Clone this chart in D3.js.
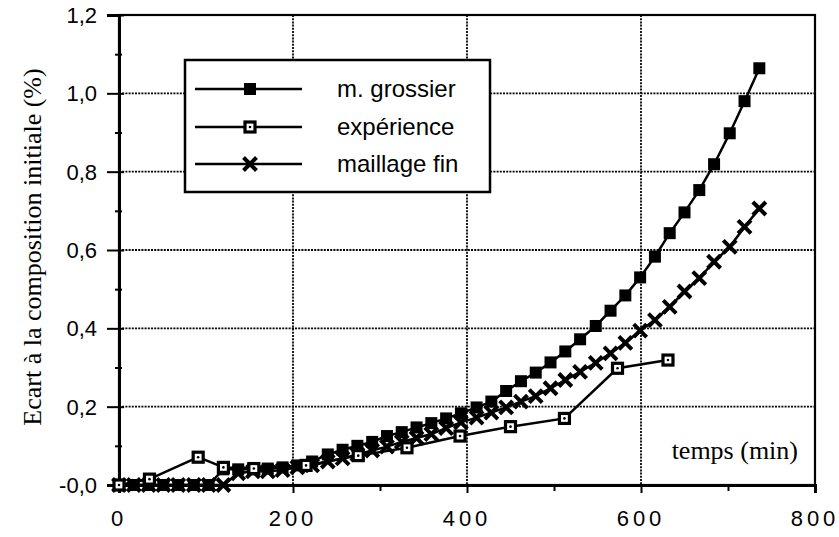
<!DOCTYPE html>
<html><head><meta charset="utf-8">
<script src="https://cdn.jsdelivr.net/npm/d3@7"></script>
<style>body{margin:0;background:#fff}svg{display:block}</style>
</head><body>
<svg id="c" width="839" height="537"></svg>
<script>
// ---- data ----
const simTime = [0,17,34,51,68,86,103,120,137,154,171,188,205,222,240,257,274,291,308,325,342,359,376,393,411,428,445,462,479,496,513,530,548,565,582,599,616,633,650,667,684,702,719,736];
const grossier = [0,0,0,0,0,0,0,0.04,0.04,0.04,0.042,0.045,0.05,0.06,0.078,0.09,0.1,0.11,0.125,0.135,0.147,0.158,0.17,0.183,0.198,0.213,0.24,0.265,0.287,0.313,0.341,0.372,0.406,0.445,0.484,0.53,0.583,0.643,0.696,0.753,0.819,0.898,0.98,1.064];
const maillageFin = [0,0,0,0,0,0,0,0.0,0.03,0.035,0.035,0.038,0.045,0.05,0.06,0.068,0.078,0.088,0.098,0.11,0.12,0.13,0.145,0.16,0.172,0.185,0.198,0.213,0.227,0.247,0.268,0.289,0.312,0.336,0.363,0.394,0.421,0.455,0.494,0.528,0.57,0.608,0.659,0.706];
const expTime = [0,35,91,120,155,215,275,331,392,450,512,573,631];
const experience = [0,0.015,0.071,0.045,0.042,0.05,0.075,0.095,0.125,0.149,0.17,0.298,0.319];
const xTicks = [0,200,400,600,800];
const yTicks = [0,0.2,0.4,0.6,0.8,1.0,1.2];
const yTickLabels = ["-0,0","0,2","0,4","0,6","0,8","1,0","1,2"];
const legendLabels = ["m. grossier","expérience","maillage fin"];

const svg = d3.select("#c");
const x = d3.scaleLinear().domain([0,800]).range([119,815]);
const y = d3.scaleLinear().domain([0,1.2]).range([485,15]);

// grid
const grid = svg.append("g").attr("stroke","#000").attr("stroke-width",1.8).attr("stroke-dasharray","2,1.2");
grid.selectAll(".gx").data(xTicks.slice(1,-1)).join("line")
  .attr("x1",d=>x(d)).attr("x2",d=>x(d)).attr("y1",y(1.2)).attr("y2",y(0));
grid.selectAll(".gy").data(yTicks.slice(1,-1)).join("line")
  .attr("y1",d=>y(d)).attr("y2",d=>y(d)).attr("x1",x(0)).attr("x2",x(800));

// frame
svg.append("rect").attr("x",x(0)).attr("y",y(1.2)).attr("width",x(800)-x(0)).attr("height",y(0)-y(1.2))
  .attr("fill","none").attr("stroke","#000").attr("stroke-width",2.2);

// axes
const xAxis = d3.axisBottom(x).tickValues(xTicks).tickSize(8).tickFormat(()=>"");
const gx = svg.append("g").attr("transform",`translate(0,${y(0)})`).call(xAxis);
gx.select(".domain").attr("stroke-width",3);
gx.selectAll(".tick line").attr("stroke-width",2);
const xMinor = d3.axisBottom(x).tickValues([100,300,500,700]).tickSize(6).tickFormat(()=>"");
const gxm = svg.append("g").attr("transform",`translate(0,${y(0)})`).call(xMinor);
gxm.select(".domain").remove();
gxm.selectAll(".tick line").attr("stroke-width",2);

const yAxis = d3.axisLeft(y).tickValues(yTicks).tickSize(12).tickFormat(()=>"");
const gy = svg.append("g").attr("transform",`translate(${x(0)},0)`).call(yAxis);
gy.select(".domain").attr("stroke-width",3);
gy.selectAll(".tick line").attr("stroke-width",2).attr("x2",-12).attr("x1",5);
const yMinor = d3.axisLeft(y).tickValues([0.1,0.3,0.5,0.7,0.9,1.1]).tickSize(4).tickFormat(()=>"");
const gym = svg.append("g").attr("transform",`translate(${x(0)},0)`).call(yMinor);
gym.select(".domain").remove();
gym.selectAll(".tick line").attr("stroke-width",2).attr("x1",3);

// tick labels
svg.append("g").selectAll("text").data(xTicks).join("text")
  .attr("x",d=>x(d)).attr("y",526).attr("text-anchor","middle")
  .attr("font-family","Liberation Sans, Arial, sans-serif").attr("font-size",22)
  .attr("letter-spacing","4px").text(d=>d);
svg.append("g").selectAll("text").data(yTicks).join("text")
  .attr("x",97).attr("y",d=>y(d)+8).attr("text-anchor","end")
  .attr("font-family","Liberation Sans, Arial, sans-serif").attr("font-size",22)
  .text((d,i)=>yTickLabels[i]);

// axis titles
svg.append("text").attr("transform","translate(41,247) rotate(-90)").attr("text-anchor","middle")
  .attr("font-family","Liberation Serif, Times New Roman, serif").attr("font-size",26)
  .text("Ecart à la composition initiale (%)");
svg.append("text").attr("x",798).attr("y",459).attr("text-anchor","end")
  .attr("font-family","Liberation Serif, Times New Roman, serif").attr("font-size",26)
  .text("temps (min)");

// series
const line = d3.line().x(d=>x(d[0])).y(d=>y(d[1]));
const gData = simTime.map((t,i)=>[t,grossier[i]]);
const fData = simTime.map((t,i)=>[t,maillageFin[i]]);
const eData = expTime.map((t,i)=>[t,experience[i]]);

function sqFilled(g,cx,cy){g.append("rect").attr("x",cx-6).attr("y",cy-6).attr("width",12).attr("height",12).attr("fill","#000");}
function sqOpen(g,cx,cy){
  g.append("rect").attr("x",cx-5).attr("y",cy-5).attr("width",10).attr("height",10).attr("fill","#fff").attr("stroke","#000").attr("stroke-width",3.2);
  g.append("circle").attr("cx",cx).attr("cy",cy).attr("r",1.3).attr("fill","#000");
}
function cross(g,cx,cy){
  g.append("path").attr("d",`M${cx-6.5},${cy-6.5}L${cx+6.5},${cy+6.5}M${cx-6.5},${cy+6.5}L${cx+6.5},${cy-6.5}`)
   .attr("stroke","#000").attr("stroke-width",4).attr("fill","none");
}

const series = svg.append("g");
series.append("path").datum(eData).attr("d",line).attr("fill","none").attr("stroke","#000").attr("stroke-width",2.5);
series.append("path").datum(fData).attr("d",line).attr("fill","none").attr("stroke","#000").attr("stroke-width",2.5);
series.append("path").datum(gData).attr("d",line).attr("fill","none").attr("stroke","#000").attr("stroke-width",2.5);
const mk = svg.append("g");
fData.forEach(d=>cross(mk,x(d[0]),y(d[1])));
gData.forEach(d=>sqFilled(mk,x(d[0]),y(d[1])));
eData.forEach(d=>sqOpen(mk,x(d[0]),y(d[1])));

// legend
const lg = svg.append("g");
lg.append("rect").attr("x",185).attr("y",60).attr("width",305).attr("height",132)
  .attr("fill","#fff").attr("stroke","#000").attr("stroke-width",2.5);
const rows = [89,127,164];
const markers = [sqFilled,sqOpen,cross];
rows.forEach((ry,i)=>{
  lg.append("line").attr("x1",195).attr("x2",302).attr("y1",ry).attr("y2",ry).attr("stroke","#000").attr("stroke-width",2.5);
  markers[i](lg,250,ry);
  lg.append("text").attr("x",337).attr("y",ry+8).attr("font-family","Liberation Sans, Arial, sans-serif")
    .attr("font-size",24).text(legendLabels[i]);
});
</script>
</body></html>
